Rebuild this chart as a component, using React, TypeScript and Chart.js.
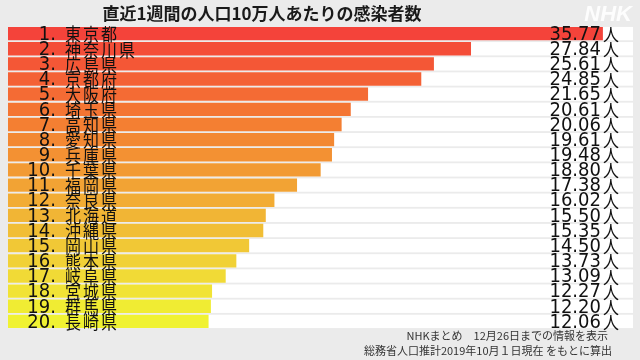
import React, { useEffect, useRef } from "react";
import { Chart, registerables } from "chart.js";

Chart.register(...registerables);

const TITLE = "直近1週間の人口10万人あたりの感染者数";
const FOOTER1 = "NHKまとめ　12月26日までの情報を表示";
const FOOTER2 = "総務省人口推計2019年10月１日現在 をもとに算出";
const UNIT = "人";

const ranks = ["1.", "2.", "3.", "4.", "5.", "6.", "7.", "8.", "9.", "10.", "11.", "12.", "13.", "14.", "15.", "16.", "17.", "18.", "19.", "20."];
const prefectures = ["東京都", "神奈川県", "広島県", "京都府", "大阪府", "埼玉県", "高知県", "愛知県", "兵庫県", "千葉県", "福岡県", "奈良県", "北海道", "沖縄県", "岡山県", "熊本県", "岐阜県", "宮城県", "群馬県", "長崎県"];
const values = [35.77, 27.84, 25.61, 24.85, 21.65, 20.61, 20.06, 19.61, 19.48, 18.8, 17.38, 16.02, 15.5, 15.35, 14.5, 13.73, 13.09, 12.27, 12.2, 12.06];
const barColors = [
  "#F4433A", "#F44D38", "#F45736", "#F46135", "#F46B34",
  "#F47533", "#F47F32", "#F38832", "#F39133", "#F29A33",
  "#F2A334", "#F2AC34", "#F1B535", "#F1BE35", "#F1C836",
  "#F1D136", "#F1DA36", "#F1E335", "#F0EC33", "#F0F232",
];

function stretchText(ctx: any, text: string, x: number, y: number, sy: number) {
  ctx.save();
  ctx.translate(x, y);
  ctx.scale(1, sy);
  ctx.fillText(text, 0, 0);
  ctx.restore();
}

const overlay = {
  id: "overlay",
  beforeDraw(chart: any) {
    const ctx = chart.ctx;
    ctx.save();
    ctx.fillStyle = "#EBEBEB";
    ctx.fillRect(0, 0, chart.width, chart.height);
    ctx.restore();
  },
  beforeDatasetsDraw(chart: any) {
    const ctx = chart.ctx;
    const { left, right } = chart.chartArea;
    const meta = chart.getDatasetMeta(0);
    ctx.save();
    ctx.fillStyle = "#FFFFFF";
    meta.data.forEach((el: any) => {
      const p = el.getProps(["y", "height"], true);
      ctx.fillRect(left, p.y - p.height / 2, right - left, p.height);
    });
    ctx.restore();
  },
  afterDatasetsDraw(chart: any) {
    const ctx = chart.ctx;
    const meta = chart.getDatasetMeta(0);
    ctx.save();
    ctx.fillStyle = "#111111";
    ctx.textBaseline = "middle";
    meta.data.forEach((el: any, i: number) => {
      const y = el.y + 1;
      ctx.font = "18px 'DejaVu Sans'";
      ctx.textAlign = "right";
      stretchText(ctx, ranks[i], 56, y, 1.12);
      ctx.font = "16px 'Noto Sans CJK JP'";
      ctx.textAlign = "left";
      (ctx as any).letterSpacing = "2px";
      stretchText(ctx, prefectures[i], 65, y, 1.12);
      (ctx as any).letterSpacing = "0px";
      ctx.font = "18px 'DejaVu Sans'";
      ctx.textAlign = "right";
      stretchText(ctx, values[i].toFixed(2), 601, y, 1.12);
      ctx.font = "16px 'Noto Sans CJK JP'";
      ctx.textAlign = "left";
      stretchText(ctx, UNIT, 603, y, 1.08);
    });
    ctx.restore();
  },
  afterDraw(chart: any) {
    const ctx = chart.ctx;
    ctx.save();
    ctx.textBaseline = "middle";
    ctx.textAlign = "center";
    ctx.fillStyle = "#1a1a1a";
    ctx.font = "bold 17px 'Noto Sans CJK JP'";
    ctx.fillText(TITLE, 262, 14);
    ctx.font = "italic bold 22px 'Liberation Sans'";
    ctx.fillStyle = "rgba(255,255,255,0.9)";
    ctx.textAlign = "right";
    ctx.fillText("NHK", 632, 15);
    ctx.fillStyle = "#333333";
    ctx.font = "11px 'Noto Sans CJK JP'";
    ctx.fillText(FOOTER1, 608, 336);
    ctx.fillText(FOOTER2, 612, 351);
    ctx.restore();
  },
};

export default function App() {
  const ref = useRef<HTMLCanvasElement>(null);
  useEffect(() => {
    const canvas = ref.current!;
    const chart = new Chart(canvas, {
      type: "bar",
      data: {
        labels: prefectures,
        datasets: [
          {
            data: values,
            backgroundColor: barColors,
            borderWidth: 0,
            barPercentage: 0.88,
            categoryPercentage: 1,
          },
        ],
      },
      options: {
        indexAxis: "y",
        responsive: false,
        animation: false,
        layout: { padding: { left: 8, right: 7, top: 26, bottom: 31 } },
        scales: {
          x: { display: false, min: 0, max: 37.58 },
          y: { display: false },
        },
        plugins: {
          legend: { display: false },
          title: { display: false },
          tooltip: { enabled: false },
        },
      },
      plugins: [overlay],
    });
    return () => chart.destroy();
  }, []);
  return (
    <div style={{ position: "fixed", left: 0, top: 0, width: 640, height: 360, background: "#EBEBEB" }}>
      <canvas ref={ref} width={640} height={360} style={{ display: "block" }} />
    </div>
  );
}
